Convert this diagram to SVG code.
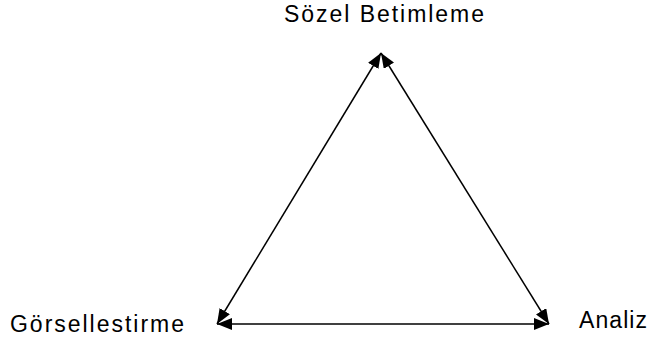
<svg xmlns="http://www.w3.org/2000/svg" width="650" height="347" viewBox="0 0 650 347">
<style>
.lbl{font-family:"Liberation Sans",Arial,sans-serif;font-size:23px;fill:#000}
.edge{stroke:#000;stroke-width:1.5;fill:none;marker-start:url(#ah);marker-end:url(#ah)}
</style>
<defs>
<marker id="ah" markerUnits="userSpaceOnUse" viewBox="0 0 15 12" refX="15" refY="6" markerWidth="15" markerHeight="12" orient="auto-start-reverse">
<path d="M0,0 L15,6 L0,12 z" fill="#000"/>
</marker>
</defs>
<rect width="650" height="347" fill="#fff"/>
<g id="connectors">
<line class="edge" x1="217" y1="324" x2="381" y2="53"/>
<line class="edge" x1="381" y1="53" x2="549" y2="324"/>
<line class="edge" x1="217" y1="324" x2="549" y2="324"/>
</g>
<g id="node-sozel"><text class="lbl" x="284" y="22" textLength="200" lengthAdjust="spacing">Sözel Betimleme</text></g>
<g id="node-gorsel"><text class="lbl" x="10" y="332" textLength="174" lengthAdjust="spacing">Görsellestirme</text></g>
<g id="node-analiz"><text class="lbl" x="579" y="328" textLength="68" lengthAdjust="spacing">Analiz</text></g>
</svg>
